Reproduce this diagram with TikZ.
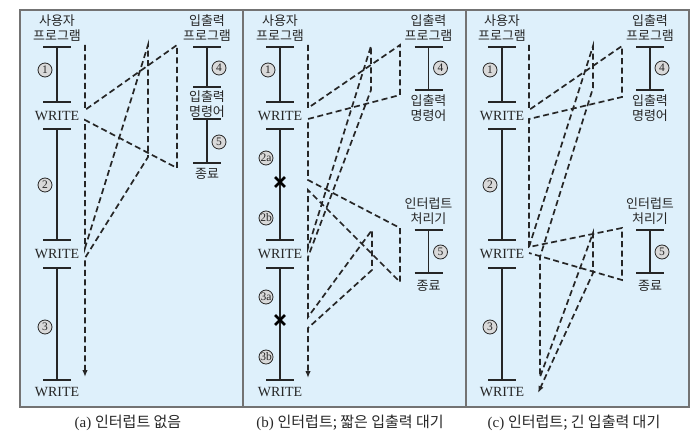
\documentclass[tikz,border=0pt]{standalone}
\usepackage{fontspec}
\setmainfont{Liberation Serif}
\newfontfamily\kr{Noto Sans CJK KR}
\usepackage{tikz}
\usetikzlibrary{arrows.meta,positioning,shapes.misc}
\definecolor{panelblue}{RGB}{222,240,251}

\begin{document}
\begin{tikzpicture}[
    x=1pt, y=-1pt,
    every node/.style={font=\fontsize{14}{15}\selectfont, text=black!85, inner sep=1pt},
    panel/.style={draw=black!55, line width=1.3pt, fill=panelblue},
    kor/.style={font=\kr\fontsize{13}{15.5}\selectfont, align=center, inner sep=0pt},
    captiontext/.style={font=\fontsize{15}{17}\selectfont},
    prog/.style={line width=1.8pt, draw=black!85},
    num/.style={circle, draw=black!85, fill=black!15, line width=0.8pt, inner sep=0pt, minimum size=14pt, font=\fontsize{11.5}{11.5}\selectfont},
    xmark/.style={cross out, draw=black, line width=2.8pt, minimum size=7pt, inner sep=0pt},
    flow/.style={line width=1.7pt, draw=black!85, dash pattern=on 6pt off 3.5pt},
    arr/.style={flow, -{Latex[length=7pt, width=5.5pt]}},
  ]
  \useasboundingbox (0,0) rectangle (700,443);

  % Panels
  \foreach \p/\o in {a/0, b/223, c/446}
    \draw[panel] (20+\o,10) rectangle (243+\o,407);

  % User program and I/O program heads
  \foreach \p/\u/\i in {a/57/207, b/280/428.5, c/502/650} {
    \node[kor] (user-\p) at (\u,28) {사용자\\프로그램};
    \node[kor] (io-\p) at (\i,28) {입출력\\프로그램};
    \draw[prog] (\u,47) -- (\u,102) (\u,129) -- (\u,240) (\u,268) -- (\u,380);
    \foreach \y in {47,102,129,240,268,380}
      \draw[prog] (\u-14,\y) -- (\u+14,\y);
    \node (w1-\p) at (\u,116) {WRITE};
    \node (w2-\p) at (\u,254) {WRITE};
    \node (w3-\p) at (\u,392) {WRITE};
  }

  % (a) no interrupts
  \node[num] (n1-a) at (45,70) {1};
  \node[num] (n2-a) at (45,185) {2};
  \node[num] (n3-a) at (45,327) {3};
  \draw[prog] (207,47) -- (207,87) (207,119) -- (207,163);
  \foreach \y in {47,87,119,163}
    \draw[prog] (193,\y) -- (221,\y);
  \node[num] (n4-a) at (219,68) {4};
  \node[kor] (cmd-a) at (207,104) {입출력\\명령어};
  \node[num] (n5-a) at (219,142) {5};
  \node[kor] (end-a) at (207,174) {종료};

  % (b) and (c) I/O program and interrupt handler
  \foreach \p/\i in {b/428.5, c/650} {
    \draw[prog] (\i,47) -- (\i,90) (\i,230) -- (\i,273);
    \foreach \y in {47,90,230,273}
      \draw[prog] (\i-14,\y) -- (\i+14,\y);
    \node[num] (n4-\p) at (\i+12,68) {4};
    \node[kor] (cmd-\p) at (\i,108) {입출력\\명령어};
    \node[kor] (isr-\p) at (\i,211) {인터럽트\\처리기};
    \node[num] (n5-\p) at (\i+12,252) {5};
    \node[kor] (end-\p) at (\i,286) {종료};
  }

  % (b) user program pieces
  \node[num] (n1-b) at (268,70) {1};
  \node[num] (n2a-b) at (266,158) {2a};
  \node[xmark] (x1-b) at (280,182) {};
  \node[num] (n2b-b) at (266,218) {2b};
  \node[num] (n3a-b) at (266,297) {3a};
  \node[xmark] (x2-b) at (280,320) {};
  \node[num] (n3b-b) at (266,357) {3b};

  % (c) user program pieces
  \node[num] (n1-c) at (490,70) {1};
  \node[num] (n2-c) at (490,185) {2};
  \node[num] (n3-c) at (490,327) {3};

  % Flow of control (a)
  \coordinate (a0) at (85,45);
  \coordinate (a1) at (85,110);
  \coordinate (a2) at (177,45);
  \coordinate (a3) at (177,168);
  \coordinate (a4) at (85,120);
  \coordinate (a5) at (85,248);
  \coordinate (a6) at (148,45);
  \coordinate (a7) at (148,157);
  \coordinate (a8) at (85,258);
  \coordinate (a9) at (85,377);
  \draw[arr] (a0) -- (a1) -- (a2) -- (a3) -- (a4) -- (a5) -- (a6) -- (a7) -- (a8) -- (a9);

  % Flow of control (b)
  \coordinate (b0) at (308,45);
  \coordinate (b1) at (308,108);
  \coordinate (b2) at (400,45);
  \coordinate (b3) at (400,95);
  \coordinate (b4) at (308,119);
  \coordinate (b5) at (308,180);
  \coordinate (b6) at (400,228);
  \coordinate (b7) at (400,282);
  \coordinate (b8) at (308,190);
  \coordinate (b9) at (308,248);
  \coordinate (b10) at (371,46);
  \coordinate (b11) at (371,90);
  \coordinate (b12) at (308,257);
  \coordinate (b13) at (308,317);
  \coordinate (b14) at (372,230);
  \coordinate (b15) at (372,270);
  \coordinate (b16) at (308,328);
  \coordinate (b17) at (308,378);
  \draw[arr] (b0) -- (b1) -- (b2) -- (b3) -- (b4) -- (b5) -- (b6) -- (b7) -- (b8) -- (b9)
    -- (b10) -- (b11) -- (b12) -- (b13) -- (b14) -- (b15) -- (b16) -- (b17);

  % Flow of control (c)
  \coordinate (c0) at (529,45);
  \coordinate (c1) at (529,110);
  \coordinate (c2) at (622,46);
  \coordinate (c3) at (622,97);
  \coordinate (c4) at (529,119);
  \coordinate (c5) at (529,247);
  \coordinate (c6) at (622,228);
  \coordinate (c7) at (622,280);
  \coordinate (c8) at (529,253);
  \coordinate (c9) at (593,46);
  \coordinate (c10) at (593,88);
  \coordinate (c11) at (540,257);
  \coordinate (c12) at (540,377);
  \coordinate (c13) at (593,233);
  \coordinate (c14) at (593,273);
  \coordinate (c15) at (538,393);
  \draw[flow] (c0) -- (c1) -- (c2) -- (c3) -- (c4) -- (c5) -- (c6) -- (c7) -- (c8);
  \draw[arr] (c5) -- (c9) -- (c10) -- (c11) -- (c12) -- (c13) -- (c14) -- (c15);

  % Captions
  \node[captiontext] (cap-a) at (128,423) {(a) {\kr 인터럽트 없음}};
  \node[captiontext] (cap-b) at (350,423) {(b) {\kr 인터럽트; 짧은 입출력 대기}};
  \node[captiontext] (cap-c) at (574,423) {(c) {\kr 인터럽트; 긴 입출력 대기}};

\end{tikzpicture}
\end{document}
